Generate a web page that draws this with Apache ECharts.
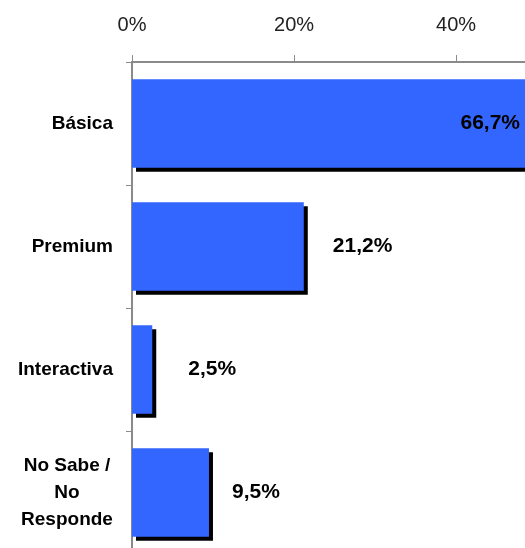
<!DOCTYPE html>
<html>
<head>
<meta charset="utf-8">
<script src="https://cdn.jsdelivr.net/npm/echarts@6/dist/echarts.min.js"></script>
<style>
  html, body { margin: 0; padding: 0; background: #fff; }
  #main { width: 525px; height: 548px; }
</style>
</head>
<body>
<div id="main"></div>
<script>
// categories top to bottom
var categories = ['Básica', 'Premium', 'Interactiva', 'No Sabe /\nNo\nResponde'];
var values = [66.7, 21.2, 2.5, 9.5];
var tickLabels = ['0%', '20%', '40%'];

var myChart = echarts.init(document.getElementById('main'));

// gap between bar end and its label (Excel places them a bit unevenly)
var labelGap = [0, 29, 36, 23];

var seriesData = values.map(function (v, i) {
    var item = { value: v };
    if (i === 0) {
        item.label = { position: 'insideRight', distance: 5 };
    } else {
        item.label = { position: 'right', distance: labelGap[i] };
    }
    return item;
});

var option = {
    animation: false,
    grid: {
        left: 132,
        top: 62,
        width: 393,
        height: 492,
        outerBoundsMode: 'none'
    },
    xAxis: {
        type: 'value',
        position: 'top',
        min: 0,
        max: 48.5,
        interval: 20,
        axisLine: {
            show: true,
            lineStyle: { color: '#8a8a8a', width: 2 }
        },
        axisTick: {
            show: true,
            length: 7,
            lineStyle: { color: '#8a8a8a', width: 1 }
        },
        splitLine: { show: false },
        axisLabel: {
            margin: 27,
            color: '#222',
            fontSize: 20,
            fontFamily: 'Liberation Sans',
            showMaxLabel: false,
            formatter: function (v) {
                if (v % 20 !== 0) return '';
                var idx = v / 20;
                return tickLabels[idx] !== undefined ? tickLabels[idx] : '';
            }
        }
    },
    yAxis: {
        type: 'category',
        inverse: true,
        data: categories,
        axisLine: {
            show: true,
            lineStyle: { color: '#8a8a8a', width: 2 }
        },
        axisTick: {
            show: true,
            length: 6,
            lineStyle: { color: '#8a8a8a', width: 1 }
        },
        axisLabel: {
            margin: 19,
            color: '#000',
            fontSize: 19,
            fontWeight: 'bold',
            fontFamily: 'Liberation Sans',
            lineHeight: 27,
            formatter: function (value) {
                if (value.indexOf('\n') < 0) return value;
                return value.split('\n').map(function (s) {
                    return '{c|' + s + '}';
                }).join('\n');
            },
            rich: {
                c: {
                    width: 92,
                    align: 'center',
                    fontSize: 19,
                    fontWeight: 'bold',
                    fontFamily: 'Liberation Sans',
                    lineHeight: 27,
                    color: '#000'
                }
            }
        }
    },
    series: [
        {
            type: 'bar',
            data: seriesData,
            barCategoryGap: '28%',
            itemStyle: {
                color: '#3366ff',
                shadowColor: '#000',
                shadowBlur: 0,
                shadowOffsetX: 4,
                shadowOffsetY: 4
            },
            label: {
                show: true,
                color: '#000',
                fontSize: 21,
                fontWeight: 'bold',
                fontFamily: 'Liberation Sans',
                formatter: function (p) {
                    return p.value.toFixed(1).replace('.', ',') + '%';
                }
            }
        }
    ]
};

myChart.setOption(option);
</script>
</body>
</html>
